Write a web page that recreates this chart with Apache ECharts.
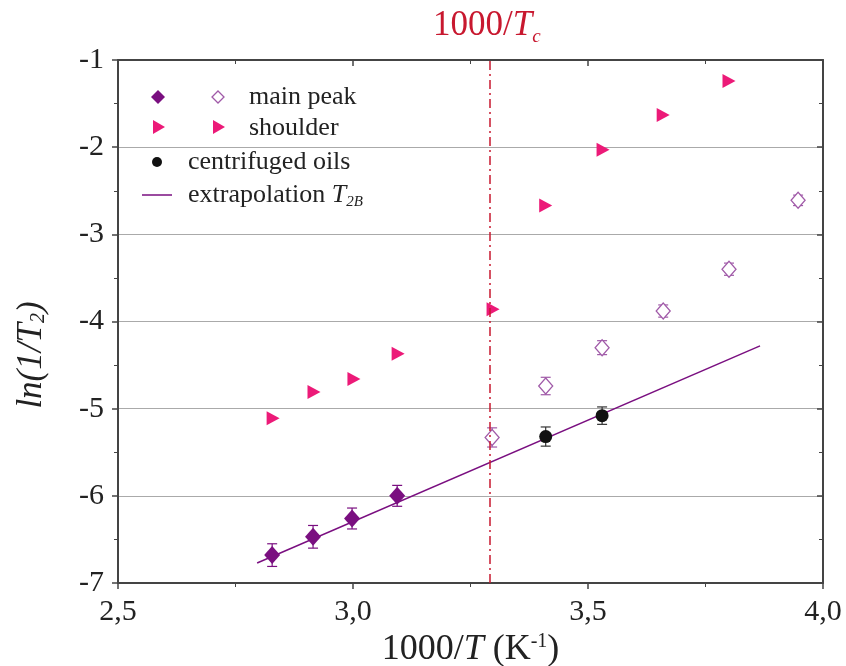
<!DOCTYPE html>
<html>
<head>
<meta charset="utf-8">
<script src="https://cdn.jsdelivr.net/npm/echarts@6/dist/echarts.min.js"></script>
<style>
  html, body { margin: 0; padding: 0; background: #fff; }
  #main { width: 846px; height: 666px; }
</style>
</head>
<body>
<div id="main"></div>
<script>
// main peak, filled (below Tc)
var peakX = [2.828, 2.915, 2.998, 3.094];
var peakY = [-6.68, -6.47, -6.26, -6.00];
var peakErr = [0.13, 0.13, 0.12, 0.12];

// main peak, open (above Tc)
var peakOpenX = [3.296, 3.41, 3.53, 3.66, 3.80, 3.947];
var peakOpenY = [-5.33, -4.74, -4.30, -3.88, -3.40, -2.61];
var peakOpenErr = [0.11, 0.1, 0.08, 0.07, 0.07, 0.06];

// shoulder
var shoulderX = [2.83, 2.917, 3.002, 3.096, 3.298, 3.41, 3.532, 3.66, 3.80];
var shoulderY = [-5.11, -4.81, -4.66, -4.37, -3.86, -2.67, -2.03, -1.63, -1.24];

// centrifuged oils
var oilX = [3.41, 3.53];
var oilY = [-5.32, -5.08];
var oilErr = [0.11, 0.1];

// extrapolation T2B
var fitX = [2.796, 3.866];
var fitY = [-6.77, -4.28];

var tcX = 3.29;

var xTicks = { min: 2.5, max: 4.0, interval: 0.5 };
var yTicks = { min: -7, max: -1, interval: 1 };

function pairs(xs, ys, es) {
  return xs.map(function (x, i) {
    return es ? [x, ys[i], es[i]] : [x, ys[i]];
  });
}

function errorBars(color) {
  return function (params, api) {
    var x = api.value(0), y = api.value(1), e = api.value(2);
    var top = api.coord([x, y + e]);
    var bot = api.coord([x, y - e]);
    var w = 5;
    var style = { stroke: color, lineWidth: 1.2 };
    return {
      type: "group",
      children: [
        { type: "line", shape: { x1: top[0], y1: top[1], x2: bot[0], y2: bot[1] }, style: style },
        { type: "line", shape: { x1: top[0] - w, y1: top[1], x2: top[0] + w, y2: top[1] }, style: style },
        { type: "line", shape: { x1: bot[0] - w, y1: bot[1], x2: bot[0] + w, y2: bot[1] }, style: style }
      ]
    };
  };
}

var purple = "#7a0f80";
var lightPurple = "#a05aa8";
var pink = "#ec1a78";
var red = "#c8182f";
var ink = "#222";
var serif = "Liberation Serif";

var myChart = echarts.init(document.getElementById("main"));

var option = {
  backgroundColor: "#fff",
  animation: false,
  textStyle: { fontFamily: serif },
  grid: { left: 118, right: 23, top: 60, bottom: 83, outerBoundsMode: "none", containLabel: false },
  xAxis: [
    {
      type: "value",
      min: xTicks.min, max: xTicks.max, interval: xTicks.interval,
      axisLine: { lineStyle: { color: "#444", width: 2 } },
      axisTick: { length: 6, lineStyle: { color: "#444", width: 1.5 } },
      minorTick: { show: true, splitNumber: 2, length: 4, lineStyle: { color: "#444" } },
      splitLine: { show: false },
      axisLabel: {
        color: ink, fontSize: 30, fontFamily: serif, margin: 14,
        formatter: function (v) { return v.toFixed(1).replace(".", ","); }
      },
      name: "{n|1000/}{i|T}{n| (K}{s|-1}{n|)}",
      nameLocation: "middle",
      nameGap: 46,
      nameTextStyle: {
        rich: {
          n: { fontSize: 36, fontFamily: serif, color: ink },
          i: { fontSize: 36, fontFamily: serif, fontStyle: "italic", color: ink },
          s: { fontSize: 20, fontFamily: serif, color: ink, verticalAlign: "top", padding: [0, 0, 16, 0] }
        }
      }
    },
    {
      type: "value", position: "top",
      min: xTicks.min, max: xTicks.max, interval: xTicks.interval,
      axisLine: { lineStyle: { color: "#444", width: 2 } },
      axisTick: { inside: true, length: 6, lineStyle: { color: "#444", width: 1.5 } },
      minorTick: { show: true, splitNumber: 2, length: 4, lineStyle: { color: "#444" } },
      axisLabel: { show: false },
      splitLine: { show: false }
    }
  ],
  yAxis: [
    {
      type: "value",
      min: yTicks.min, max: yTicks.max, interval: yTicks.interval,
      axisLine: { show: true, lineStyle: { color: "#444", width: 2 } },
      axisTick: { show: true, length: 6, lineStyle: { color: "#444", width: 1.5 } },
      minorTick: { show: true, splitNumber: 2, length: 4, lineStyle: { color: "#444" } },
      splitLine: { show: true, lineStyle: { color: "#aaa", width: 1.2 } },
      axisLabel: { color: ink, fontSize: 30, fontFamily: serif, margin: 14 }
    },
    {
      type: "value", position: "right",
      min: yTicks.min, max: yTicks.max, interval: yTicks.interval,
      axisLine: { show: true, lineStyle: { color: "#444", width: 2 } },
      axisTick: { show: true, inside: true, length: 6, lineStyle: { color: "#444", width: 1.5 } },
      minorTick: { show: true, splitNumber: 2, length: 4, lineStyle: { color: "#444" } },
      axisLabel: { show: false },
      splitLine: { show: false }
    }
  ],
  graphic: [
    {
      // y axis title, placed below the axis middle like the reference
      type: "text", x: 32, y: 355, rotation: Math.PI / 2,
      style: {
        text: "{i|ln(1/T}{s|2}{i|)}",
        align: "center", verticalAlign: "middle",
        rich: {
          i: { fontSize: 35, fontFamily: serif, fontStyle: "italic", fill: ink },
          s: { fontSize: 20, fontFamily: serif, fontStyle: "italic", fill: ink, padding: [14, 0, 0, 0] }
        }
      }
    },
    {
      type: "text", left: 433, top: 8,
      style: {
        text: "{n|1000/}{i|T}{s|c}",
        rich: {
          n: { fontSize: 35, fontFamily: serif, fill: red },
          i: { fontSize: 35, fontFamily: serif, fontStyle: "italic", fill: red },
          s: { fontSize: 19, fontFamily: serif, fontStyle: "italic", fill: red, padding: [22, 0, 0, 0] }
        }
      }
    },
    // legend
    { type: "polygon", shape: { points: [[158, 90], [165, 97], [158, 104], [151, 97]] }, style: { fill: purple } },
    { type: "polygon", shape: { points: [[218, 91], [224, 97], [218, 103], [212, 97]] }, style: { fill: "#fff", stroke: lightPurple, lineWidth: 1.3 } },
    { type: "text", x: 249, y: 97, style: { text: "main peak", fontSize: 26, fontFamily: serif, fill: ink, verticalAlign: "middle" } },
    { type: "polygon", shape: { points: [[153, 120], [165, 127], [153, 134]] }, style: { fill: pink } },
    { type: "polygon", shape: { points: [[213, 120], [225, 127], [213, 134]] }, style: { fill: pink } },
    { type: "text", x: 249, y: 128, style: { text: "shoulder", fontSize: 26, fontFamily: serif, fill: ink, verticalAlign: "middle" } },
    { type: "circle", shape: { cx: 157, cy: 162, r: 5 }, style: { fill: "#111" } },
    { type: "text", x: 188, y: 162, style: { text: "centrifuged oils", fontSize: 26, fontFamily: serif, fill: ink, verticalAlign: "middle" } },
    { type: "line", shape: { x1: 142, y1: 195, x2: 172, y2: 195 }, style: { stroke: purple, lineWidth: 1.5 } },
    {
      type: "text", x: 188, y: 195,
      style: {
        text: "{n|extrapolation }{i|T}{s|2B}",
        verticalAlign: "middle",
        rich: {
          n: { fontSize: 26, fontFamily: serif, fill: ink },
          i: { fontSize: 26, fontFamily: serif, fontStyle: "italic", fill: ink },
          s: { fontSize: 15, fontFamily: serif, fontStyle: "italic", fill: ink, padding: [14, 0, 0, 0] }
        }
      }
    }
  ],
  series: [
    {
      name: "extrapolation",
      type: "line",
      data: pairs(fitX, fitY),
      symbol: "none",
      lineStyle: { color: purple, width: 1.5 },
      z: 2,
      markLine: {
        silent: true,
        symbol: "none",
        label: { show: false },
        lineStyle: { color: red, width: 1.5, type: [9, 4, 2, 4] },
        data: [{ xAxis: tcX }]
      }
    },
    {
      type: "custom", renderItem: errorBars(purple),
      data: pairs(peakX, peakY, peakErr), z: 3
    },
    {
      type: "custom", renderItem: errorBars(lightPurple),
      data: pairs(peakOpenX, peakOpenY, peakOpenErr), z: 3
    },
    {
      type: "custom", renderItem: errorBars("#333"),
      data: pairs(oilX, oilY, oilErr), z: 3
    },
    {
      name: "main peak",
      type: "scatter",
      data: pairs(peakX, peakY),
      symbol: "diamond",
      symbolSize: [16, 18],
      itemStyle: { color: purple, opacity: 1 },
      z: 4
    },
    {
      name: "main peak open",
      type: "scatter",
      data: pairs(peakOpenX, peakOpenY),
      symbol: "diamond",
      symbolSize: [14, 16],
      itemStyle: { color: "#fff", borderColor: lightPurple, borderWidth: 1.3, opacity: 1 },
      z: 4
    },
    {
      name: "shoulder",
      type: "scatter",
      data: pairs(shoulderX, shoulderY),
      symbol: "triangle",
      symbolRotate: -90,
      symbolSize: [14, 13],
      itemStyle: { color: pink, opacity: 1 },
      z: 4
    },
    {
      name: "centrifuged oils",
      type: "scatter",
      data: pairs(oilX, oilY),
      symbol: "circle",
      symbolSize: 13,
      itemStyle: { color: "#111", opacity: 1 },
      z: 4
    }
  ]
};

myChart.setOption(option);
</script>
</body>
</html>
